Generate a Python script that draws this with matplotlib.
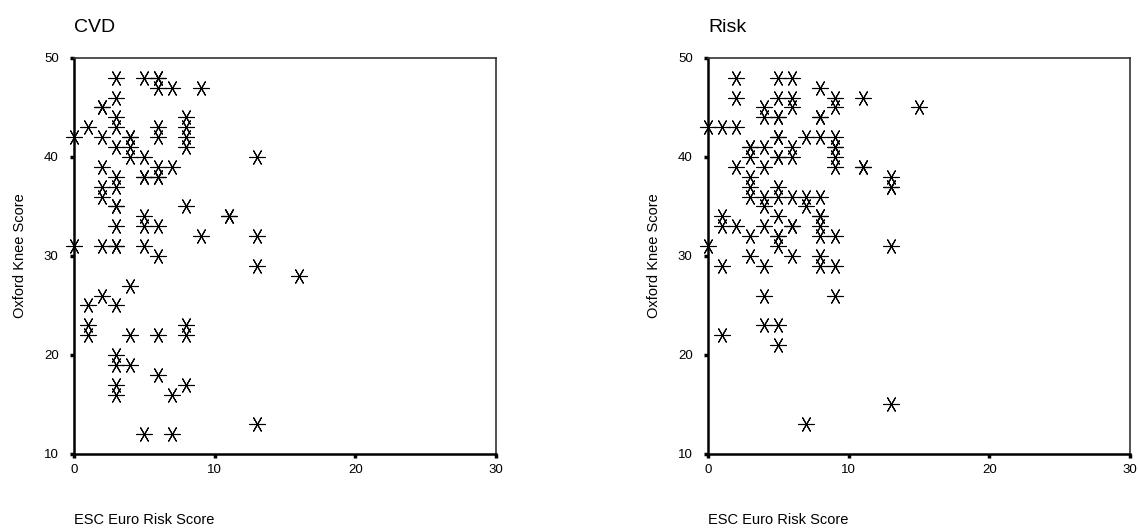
import matplotlib
matplotlib.use("Agg")
import matplotlib.pyplot as plt

plt.rcParams['font.family'] = ['Liberation Sans', 'DejaVu Sans']

# ESC Euro risk score vs Oxford knee score, repeated pairs kept as they are
cvd_x = [0, 0,
         1, 1, 1, 1,
         2, 2, 2, 2, 2, 2, 2, 2,
         3, 3, 3, 3, 3, 3, 3, 3, 3, 3, 3, 3, 3, 3, 3, 3, 3,
         4, 4, 4, 4, 4, 4, 4,
         5, 5, 5, 5, 5, 5, 5, 5,
         6, 6, 6, 6, 6, 6, 6, 6, 6, 6, 6, 6,
         7, 7, 7, 7,
         8, 8, 8, 8, 8, 8, 8, 8,
         9, 9,
         11, 11,
         13, 13, 13, 13,
         16]
cvd_y = [42, 31,
         43, 25, 23, 22,
         45, 45, 42, 39, 37, 36, 31, 26,
         48, 46, 44, 43, 41, 38, 37, 35, 35, 33, 31, 31, 25, 20, 19, 17, 16,
         42, 42, 41, 40, 27, 22, 19,
         48, 40, 38, 38, 34, 33, 31, 12,
         48, 48, 47, 43, 42, 39, 38, 38, 33, 30, 22, 18,
         47, 39, 16, 12,
         44, 43, 42, 41, 35, 23, 22, 17,
         47, 32,
         34, 34,
         40, 32, 29, 13,
         28]

risk_x = [0, 0,
          1, 1, 1, 1, 1,
          2, 2, 2, 2, 2,
          3, 3, 3, 3, 3, 3, 3, 3,
          4, 4, 4, 4, 4, 4, 4, 4, 4, 4,
          5, 5, 5, 5, 5, 5, 5, 5, 5, 5, 5, 5, 5, 5, 5, 5,
          6, 6, 6, 6, 6, 6, 6, 6, 6,
          7, 7, 7, 7,
          8, 8, 8, 8, 8, 8, 8, 8, 8, 8, 8,
          9, 9, 9, 9, 9, 9, 9, 9, 9, 9,
          11, 11, 11,
          13, 13, 13, 13, 13,
          15]
risk_y = [43, 31,
          43, 34, 33, 29, 22,
          48, 46, 43, 39, 33,
          41, 41, 40, 38, 37, 36, 32, 30,
          45, 44, 41, 39, 36, 35, 33, 29, 26, 23,
          48, 46, 44, 44, 42, 42, 40, 40, 37, 36, 34, 32, 32, 31, 23, 21,
          48, 46, 45, 41, 40, 36, 33, 33, 30,
          42, 36, 35, 13,
          47, 44, 44, 42, 36, 34, 34, 33, 32, 30, 29,
          46, 45, 42, 41, 41, 40, 39, 32, 29, 26,
          46, 39, 39,
          38, 37, 37, 31, 15,
          45]

panels = [("CVD", cvd_x, cvd_y), ("Risk", risk_x, risk_y)]
lefts = [0.065, 0.6221]

fig = plt.figure(figsize=(11.38, 5.28), dpi=100)

for (title, xs, ys), left in zip(panels, lefts):
    ax = fig.add_axes([left, 0.1402, 0.3708, 0.7500])
    # six-armed asterisk with one arm lying flat
    ax.plot(xs, ys, linestyle="none", marker=(6, 2, 90), markersize=11.5,
            markeredgewidth=0.8, color="black", clip_on=False)
    ax.set_xlim(0, 30)
    ax.set_ylim(10, 50)
    ax.set_xticks([0, 10, 20, 30])
    ax.set_yticks([10, 20, 30, 40, 50])
    ax.tick_params(length=3, width=2.5, direction="out", labelsize=9.5)
    ax.tick_params(axis="y", pad=8)
    ax.tick_params(axis="x", pad=4)
    for side in ("left", "bottom"):
        ax.spines[side].set_linewidth(1.8)
    for side in ("top", "right"):
        ax.spines[side].set_linewidth(1.2)
        ax.spines[side].set_color("#333333")
    ax.text(0, 1.055, title, transform=ax.transAxes, fontsize=14,
            ha="left", va="bottom")
    ax.text(0, -0.148, "ESC Euro Risk Score", transform=ax.transAxes,
            fontsize=10.5, ha="left", va="top")
    ax.set_ylabel("Oxford Knee Score", fontsize=10.5, labelpad=12)

fig.savefig("out.png", dpi=100)
